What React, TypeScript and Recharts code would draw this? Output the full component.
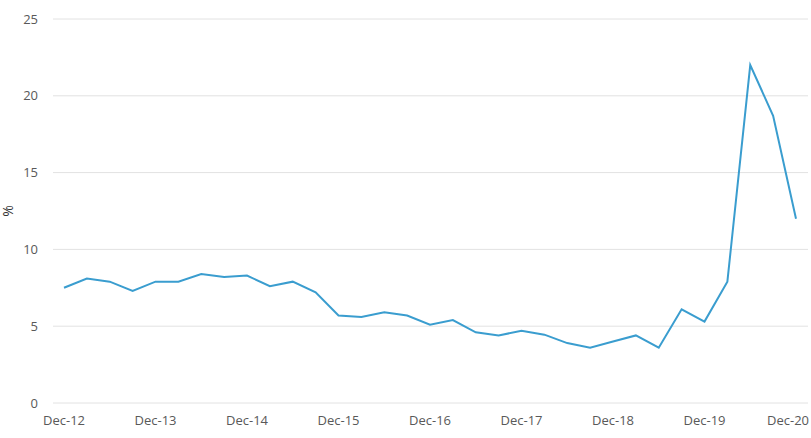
import { CartesianGrid, Label, Line, LineChart, XAxis, YAxis } from "recharts";

const quarters = [
  "Dec-12", "Mar-13", "Jun-13", "Sep-13",
  "Dec-13", "Mar-14", "Jun-14", "Sep-14",
  "Dec-14", "Mar-15", "Jun-15", "Sep-15",
  "Dec-15", "Mar-16", "Jun-16", "Sep-16",
  "Dec-16", "Mar-17", "Jun-17", "Sep-17",
  "Dec-17", "Mar-18", "Jun-18", "Sep-18",
  "Dec-18", "Mar-19", "Jun-19", "Sep-19",
  "Dec-19", "Mar-20", "Jun-20", "Sep-20",
  "Dec-20",
];

const rate = [
  7.5, 8.1, 7.9, 7.3,
  7.9, 7.9, 8.4, 8.2,
  8.3, 7.6, 7.9, 7.2,
  5.7, 5.6, 5.9, 5.7,
  5.1, 5.4, 4.6, 4.4,
  4.7, 4.45, 3.9, 3.6,
  4.0, 4.4, 3.6, 6.1,
  5.3, 7.9, 22.0, 18.7,
  12.0,
];

const yTicks = [0, 5, 10, 15, 20, 25];

const data = quarters.map((q, i) => ({ quarter: q, value: rate[i] }));

const textColor = "#595959";
const font = "'Open Sans', 'Segoe UI', sans-serif";

// keeps the last label inside the frame, like the original
function QuarterTick(props: any) {
  const { x, y, payload, index } = props;
  const last = payload.value === quarters[quarters.length - 1];
  return (
    <text
      x={last ? x + 13 : x}
      y={y}
      dy="0.71em"
      textAnchor={last ? "end" : "middle"}
      fill={textColor}
      fontSize={13}
      fontFamily={font}
      key={index}
    >
      {payload.value}
    </text>
  );
}

export default function App() {
  return (
    <div style={{ position: "absolute", left: 0, top: 0, background: "#fff" }}>
      <LineChart
        width={811}
        height={438}
        data={data}
        margin={{ top: 19, right: 3, bottom: 5, left: 0 }}
      >
        <CartesianGrid vertical={false} stroke="#e2e2e2" />
        <XAxis
          dataKey="quarter"
          interval={3}
          axisLine={false}
          tickLine={false}
          tickSize={0}
          tickMargin={13}
          height={30}
          padding={{ left: 11, right: 12 }}
          tick={<QuarterTick />}
        />
        <YAxis
          domain={[0, 25]}
          ticks={yTicks}
          axisLine={false}
          tickLine={false}
          tickSize={0}
          tickMargin={15}
          width={53}
          tick={{ fill: textColor, fontSize: 13, fontFamily: font }}
        >
          <Label
            value="%"
            angle={-90}
            position="insideLeft"
            offset={8}
            style={{ fill: "#333", fontSize: 14, fontFamily: font, textAnchor: "middle" }}
          />
        </YAxis>
        <Line
          type="linear"
          dataKey="value"
          stroke="#3a9dcf"
          strokeWidth={2}
          dot={false}
          isAnimationActive={false}
        />
      </LineChart>
    </div>
  );
}
